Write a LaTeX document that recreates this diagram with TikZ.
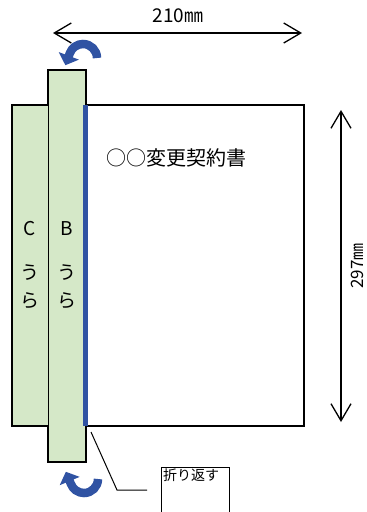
\documentclass[tikz,border=0pt]{standalone}
\usepackage{fontspec}
\setmainfont{Noto Sans CJK JP}
\usetikzlibrary{arrows.meta}
\definecolor{sheetgreen}{HTML}{D5E8C8}
\definecolor{foldblue}{HTML}{3053A3}
\tikzset{
  sheet/.style={draw=black, line width=2.4pt},
  dimline/.style={line width=1.3pt, {Straight Barb[length=17pt,width=20pt]}-{Straight Barb[length=17pt,width=20pt]}},
  turnarrow/.style={foldblue, line width=8.5pt, -{Triangle[length=10pt,width=21pt]}},
  bigtext/.style={font=\fontsize{19}{19}\selectfont},
}
\begin{document}
\begin{tikzpicture}[x=1pt, y=-1pt, line join=miter]
	\useasboundingbox (0,0) rectangle (367,512);
	% strips behind the sheet
	\fill[sheetgreen] (12,105) rectangle (48,426);
	\fill[sheetgreen] (48,70) rectangle (86,462);
	\draw[sheet] (48,105) -- (12,105) -- (12,426) -- (48,426);
	\draw[sheet] (48,426) -- (48,462) -- (86,462) -- (86,426);
	\draw[sheet] (48,105) -- (48,70) -- (86,70) -- (86,105);
	\draw[line width=0.8pt] (48,105) -- (48,426);
	% main sheet
	\draw[sheet, fill=white] (86,105) rectangle (304,426);
	\draw[foldblue, line width=4.5pt] (85.5,105) -- (85.5,426);
	\node[font=\fontsize{20}{20}\selectfont, anchor=west] (title) at (103,158) {○○変更契約書};
	% strip labels
	\node[bigtext] (clet) at (30,229) {C};
	\node[bigtext] (cu) at (30,273) {う};
	\node[bigtext] (cra) at (30,301) {ら};
	\node[bigtext] (blet) at (67,229) {B};
	\node[bigtext] (bu) at (67,273) {う};
	\node[bigtext] (bra) at (67,301) {ら};
	% dimensions
	\coordinate (wl) at (53,33);
	\coordinate (wr) at (302,33);
	\draw[dimline] (wl) -- (wr);
	\node[bigtext] (wtext) at (178,16) {210㎜};
	\coordinate (ht) at (341,110);
	\coordinate (hb) at (341,422);
	\draw[dimline] (ht) -- (hb);
	\node[font=\fontsize{17}{17}\selectfont, rotate=90] (htext) at (357,266) {297㎜};
	% turn arrows
	\draw[turnarrow] (97,58) arc[start angle=0, end angle=-160, radius=14] -- ++(-4.5,12);
	\draw[turnarrow] (98,479) arc[start angle=0, end angle=160, radius=14] -- ++(-5,-12);
	% note
	\coordinate (foldcorner) at (91,432);
	\coordinate (leaderend) at (147,490);
	\draw[line width=1pt] (foldcorner) -- (117,490) -- (leaderend);
	\draw[line width=1pt] (161,530) -- (161,467) -- (229,467) -- (229,530);
	\node[font=\fontsize{14}{14}\selectfont, anchor=north west, inner sep=2pt] (note) at (161,467) {折り返す};
\end{tikzpicture}
\end{document}
